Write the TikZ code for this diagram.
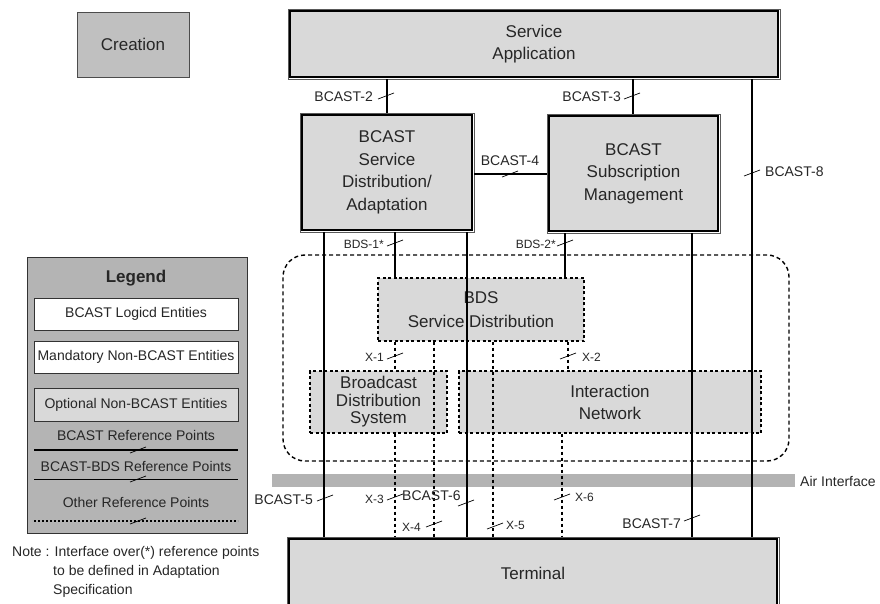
\documentclass[tikz,border=0pt]{standalone}
\usepackage{fontspec}
\setmainfont{Liberation Sans}
\usetikzlibrary{calc}
\definecolor{boxgray}{HTML}{D9D9D9}
\definecolor{crgray}{HTML}{C0C0C0}
\definecolor{leggray}{HTML}{B4B4B4}
\definecolor{airgray}{HTML}{B3B3B3}
\definecolor{txt}{HTML}{262626}
\newcommand\fBig{\fontsize{17}{22.5}\selectfont}
\newcommand\fMid{\fontsize{14}{17}\selectfont}
\newcommand\fSml{\fontsize{12}{14}\selectfont}
\newcommand\fLeg{\fontsize{14}{17}\selectfont}
\tikzset{
  mainbox/.style={draw=black!65, line width=0.8pt, fill=boxgray, inner sep=0pt, align=center, font=\fBig,
    path picture={
      \draw[white, line width=1pt] ([shift={(0.9pt,-0.9pt)}]path picture bounding box.north west) rectangle ([shift={(-0.9pt,0.9pt)}]path picture bounding box.south east);
      \draw[black, line width=2pt] ([shift={(2.4pt,-2.4pt)}]path picture bounding box.north west) rectangle ([shift={(-2.4pt,2.4pt)}]path picture bounding box.south east);}},
  optbox/.style={draw=black, line width=1.4pt, dash pattern=on 3pt off 2.5pt, fill=boxgray, inner sep=0pt, align=center, font=\fBig},
  legbox/.style={draw=black!80, line width=0.8pt, inner sep=0pt, minimum width=204pt, font=\fLeg},
  bline/.style={line width=1.4pt},
  oline/.style={line width=1.6pt, dash pattern=on 3pt off 3pt},
  lbl/.style={font=\fMid, inner sep=0pt},
  slbl/.style={font=\fSml, inner sep=0pt},
  tk/.pic={\draw[line width=0.7pt] (-8,3) -- (8,-3);}
}
\begin{document}
\begin{tikzpicture}[x=1pt, y=-1pt, every node/.append style={text=txt}]
\useasboundingbox (0,0) rectangle (880,604);
\clip (0,0) rectangle (880,604);

% column coordinates
\coordinate (c5) at (324,0);
\coordinate (c2a) at (387,0);
\coordinate (c1) at (395,0);
\coordinate (c4x) at (434,0);
\coordinate (c6) at (467,0);
\coordinate (c5x) at (493,0);
\coordinate (c6x) at (562,0);
\coordinate (c2b) at (565,0);
\coordinate (c2x) at (568,0);
\coordinate (c3) at (633,0);
\coordinate (c7) at (692,0);
\coordinate (c8) at (752,0);

% creation
\node[draw=black!70, line width=0.8pt, fill=crgray, minimum width=112pt, minimum height=65pt, font=\fBig] (creation) at (133,44.5) {Creation};

% BDS area
\node[draw=black, line width=1.4pt, dash pattern=on 4pt off 3pt, rounded corners=22pt, minimum width=506pt, minimum height=206pt] (area) at (536,358) {};

% air interface
\node[fill=airgray, inner sep=0pt, minimum width=523pt, minimum height=13pt] (air) at (533.5,480.5) {};
\node[lbl, anchor=west] (airlbl) at (800,481) {Air Interface};

% main boxes
\node[mainbox, minimum width=492pt, minimum height=70pt] (sa) at (534,44) {Service\\Application};
\node[mainbox, minimum width=174pt, minimum height=119pt] (sda) at (387,172.5) {BCAST\\Service\\Distribution/\\Adaptation};
\node[mainbox, minimum width=173pt, minimum height=119pt] (ssm) at (633.5,173.5) {BCAST\\Subscription\\Management};
\node[mainbox, minimum width=492pt, minimum height=72pt] (term) at (533,573) {Terminal};

% optional boxes
\node[optbox, minimum width=206pt, minimum height=63pt, font=\fontsize{17}{24}\selectfont] (bds) at (481,309.5) {BDS\\Service Distribution};
\node[optbox, minimum width=137pt, minimum height=62pt, font=\fontsize{17}{17.5}\selectfont] (bdsys) at (378.5,402) {Broadcast\\Distribution\\System};
\node[optbox, minimum width=302pt, minimum height=62pt, font=\fontsize{17}{22}\selectfont] (inet) at (610,402) {Interaction\\Network};

% solid reference lines
\draw[bline] (sa.south -| c2a) -- (sda.north -| c2a);
\draw[bline] (sa.south -| c3) -- (ssm.north -| c3);
\draw[bline] (sda.east |- 0,174) -- (ssm.west |- 0,174);
\draw[bline] (sa.south -| c8) -- (term.north -| c8);
\draw[bline] (sda.south -| c1) -- (bds.north -| c1);
\draw[bline] (ssm.south -| c2b) -- (bds.north -| c2b);
\draw[bline] (sda.south -| c5) -- (term.north -| c5);
\draw[bline] (sda.south -| c6) -- (term.north -| c6);
\draw[bline] (ssm.south -| c7) -- (term.north -| c7);

% other reference lines
\draw[oline] (bds.south -| c1) -- (bdsys.north -| c1);
\draw[oline] (bds.south -| c2x) -- (inet.north -| c2x);
\draw[oline] (bds.south -| c4x) -- (term.north -| c4x);
\draw[oline] (bds.south -| c5x) -- (term.north -| c5x);
\draw[oline] (bdsys.south -| c1) -- (term.north -| c1);
\draw[oline] (inet.south -| c6x) -- (term.north -| c6x);

% ticks
\pic at (386,96) {tk};
\pic at (632,96) {tk};
\pic at (510,174) {tk};
\pic at (752,173) {tk};
\pic at (395,243) {tk};
\pic at (565,243) {tk};
\pic at (395,356) {tk};
\pic at (568,356) {tk};
\pic at (325,498) {tk};
\pic at (395,497) {tk};
\pic at (466,503) {tk};
\pic at (434,524) {tk};
\pic at (495,526) {tk};
\pic at (562,497) {tk};
\pic at (692,518) {tk};

% labels
\node[lbl, anchor=east] (l2) at (373,97) {BCAST-2};
\node[lbl, anchor=east] (l3) at (621,97) {BCAST-3};
\node[lbl] (l4) at (510,161) {BCAST-4};
\node[lbl, anchor=west] (l8) at (765,172) {BCAST-8};
\node[slbl, anchor=east] (lb1) at (384,244) {BDS-1*};
\node[slbl, anchor=east] (lb2) at (556,244) {BDS-2*};
\node[slbl, anchor=east] (lx1) at (384,357) {X-1};
\node[slbl, anchor=west] (lx2) at (582,357) {X-2};
\node[lbl, anchor=east] (l5) at (313,500) {BCAST-5};
\node[slbl, anchor=east] (lx3) at (384,499) {X-3};
\node[lbl, anchor=west] (l6) at (402,496) {BCAST-6};
\node[slbl, anchor=west] (lx4) at (402,527) {X-4};
\node[slbl, anchor=west] (lx5) at (506,525) {X-5};
\node[slbl, anchor=west] (lx6) at (575,497) {X-6};
\node[lbl, anchor=east] (l7) at (681,524) {BCAST-7};

% legend
\node[draw=black!80, line width=0.8pt, fill=leggray, minimum width=220pt, minimum height=276pt] (legend) at (137,395) {};
\node[font=\fontsize{17}{19}\selectfont\bfseries] (legtitle) at (136,278) {Legend};
\node[legbox, fill=white, minimum height=32pt] (leg1) at (136,314) {BCAST Logicd Entities};
\node[legbox, fill=white, minimum height=32pt] (leg2) at (136,357) {Mandatory Non-BCAST Entities};
\node[legbox, fill=boxgray, minimum height=33pt] (leg3) at (136,404.5) {Optional Non-BCAST Entities};
\node[font=\fLeg] (legt1) at (136,435) {BCAST Reference Points};
\node[font=\fLeg] (legt2) at (136,466) {BCAST-BDS Reference Points};
\node[font=\fLeg] (legt3) at (136,502) {Other Reference Points};
\coordinate (la1) at (34,450); \coordinate (lb1e) at (238,450);
\coordinate (la2) at (34,479); \coordinate (lb2e) at (238,479);
\coordinate (la3) at (34,521); \coordinate (lb3e) at (238,521);
\draw[line width=2.2pt] (la1) -- (lb1e);
\draw[line width=0.9pt] (la2) -- (lb2e);
\draw[line width=2pt, dash pattern=on 2pt off 2pt] (la3) -- (lb3e);
\pic at (138,450) {tk};
\pic at (138,479) {tk};
\pic at (138,521) {tk};

% note
\node[font=\fontsize{14}{19}\selectfont, align=left, anchor=north west, inner sep=0pt] (note) at (12,546)
  {Note : Interface over(*) reference points\\\hspace*{41pt}to be defined in Adaptation\\\hspace*{41pt}Specification};
\end{tikzpicture}
\end{document}
